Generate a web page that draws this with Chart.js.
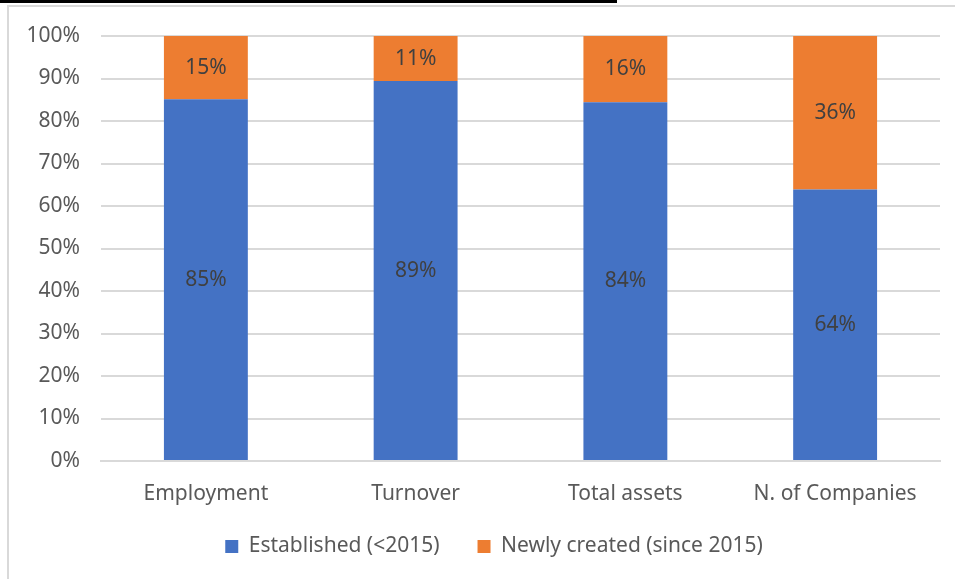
<!DOCTYPE html>
<html>
<head>
<meta charset="utf-8">
<script src="https://cdn.jsdelivr.net/npm/chart.js@4.4.1/dist/chart.umd.min.js"></script>
<style>
  html, body { margin: 0; padding: 0; background: #fff; }
  #wrap { position: relative; width: 955px; height: 579px; overflow: hidden; }
  #topbar { position: absolute; left: 0; top: 0; width: 617px; height: 3px; background: #000; }
  #frame { position: absolute; left: 7px; top: 5px; right: -4px; bottom: -4px;
           border-left: 2px solid #d9d9d9; border-top: 2px solid #d9d9d9; }
  #chart { position: absolute; left: 0; top: 0; }
</style>
</head>
<body>
<div id="wrap">
  <div id="topbar"></div>
  <div id="frame"></div>
  <canvas id="chart" width="955" height="579"></canvas>
</div>
<script>
// --- data (shares in %, labels are shown rounded) ---
const categories = ['Employment', 'Turnover', 'Total assets', 'N. of Companies'];
const established = [85.1, 89.4, 84.4, 63.9];
const newlyCreated = [14.9, 10.6, 15.6, 36.1];
const seriesNames = ['Established (<2015)', 'Newly created (since 2015)'];
const yTicks = [0, 10, 20, 30, 40, 50, 60, 70, 80, 90, 100];

const FONT = "'Noto Sans', 'Open Sans', sans-serif";

// labels in the middle of each segment
const segmentLabels = {
  id: 'segmentLabels',
  afterDatasetsDraw(chart) {
    const ctx = chart.ctx;
    ctx.save();
    ctx.font = '21px ' + FONT;
    ctx.fillStyle = '#404040';
    ctx.textAlign = 'center';
    ctx.textBaseline = 'middle';
    chart.data.datasets.forEach((ds, i) => {
      const meta = chart.getDatasetMeta(i);
      meta.data.forEach((bar, j) => {
        const p = bar.getProps(['x', 'y', 'base'], true);
        ctx.fillText(Math.round(ds.data[j]) + '%', p.x, (p.y + p.base) / 2);
      });
    });
    ctx.restore();
  }
};

// legend sits a bit right of centre and closer to the axis labels in the original
const legendShift = {
  id: 'legendShift',
  afterLayout(chart) {
    const lg = chart.legend;
    lg.left += 24;
    lg.right += 24;
    lg.top -= 11;
    lg.bottom -= 11;
  }
};

new Chart(document.getElementById('chart').getContext('2d'), {
  type: 'bar',
  data: {
    labels: categories,
    datasets: [
      { label: seriesNames[0], data: established, backgroundColor: '#4472C4' },
      { label: seriesNames[1], data: newlyCreated, backgroundColor: '#ED7D31' }
    ]
  },
  options: {
    responsive: false,
    animation: false,
    barPercentage: 0.4,
    categoryPercentage: 1,
    layout: { padding: { left: 0, right: 15, top: 36, bottom: 1 } },
    plugins: {
      tooltip: { enabled: false },
      legend: {
        position: 'bottom',
        labels: {
          font: { family: FONT, size: 21 },
          color: '#595959',
          boxWidth: 13,
          boxHeight: 13,
          padding: 38
        }
      }
    },
    scales: {
      x: {
        stacked: true,
        grid: { display: false, drawTicks: false },
        border: { display: true, color: '#d9d9d9', width: 2 },
        ticks: { font: { family: FONT, size: 21 }, color: '#595959', padding: 20 },
        afterFit(scale) { scale.height = 48; }
      },
      y: {
        stacked: true,
        min: 0,
        max: 100,
        afterBuildTicks(scale) { scale.ticks = yTicks.map(v => ({ value: v })); },
        grid: { color: '#d9d9d9', lineWidth: 2, drawTicks: false },
        border: { display: false },
        ticks: {
          font: { family: FONT, size: 21 },
          color: '#595959',
          padding: 21,
          callback: v => v + '%'
        },
        afterFit(scale) { scale.width = 101; }
      }
    }
  },
  plugins: [segmentLabels, legendShift]
});
</script>
</body>
</html>
